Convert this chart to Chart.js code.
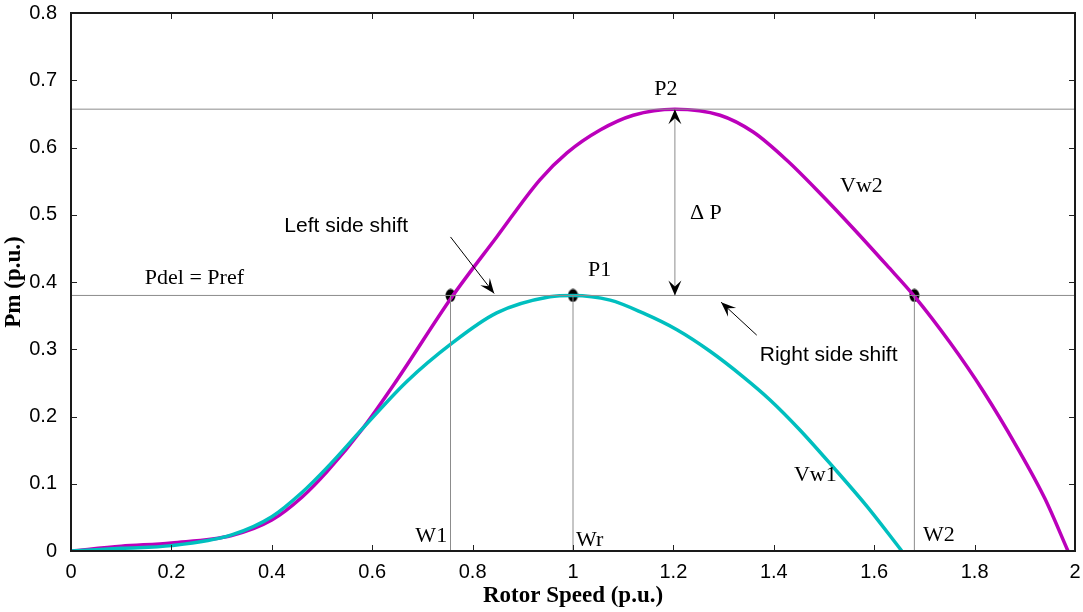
<!DOCTYPE html>
<html>
<head>
<meta charset="utf-8">
<script src="https://cdn.jsdelivr.net/npm/chart.js@4.4.1/dist/chart.umd.min.js"></script>
<style>
  html, body { margin: 0; padding: 0; background: #fff; }
  #wrap { width: 1083px; height: 612px; }
</style>
</head>
<body>
<div id="wrap"><canvas id="pmChart" width="1083" height="612"></canvas></div>
<script>
// curve Vw2 (higher wind speed)
const vw2Speed = [0, 0.1, 0.2, 0.32, 0.4, 0.46, 0.51, 0.582, 0.65, 0.759, 0.848, 0.934, 0.988, 1.054, 1.12, 1.203, 1.293, 1.359, 1.426, 1.492, 1.558, 1.625, 1.681, 1.751, 1.817, 1.884, 1.94, 1.986];
const vw2Power = [0, 0.007, 0.012, 0.023, 0.046, 0.08, 0.118, 0.183, 0.255, 0.378, 0.467, 0.552, 0.592, 0.626, 0.648, 0.657, 0.648, 0.623, 0.581, 0.532, 0.48, 0.425, 0.378, 0.31, 0.238, 0.155, 0.078, 0];

// curve Vw1 (lower wind speed)
const vw1Speed = [0, 0.1, 0.2, 0.32, 0.4, 0.46, 0.51, 0.582, 0.669, 0.759, 0.848, 0.954, 1.0, 1.074, 1.139, 1.207, 1.273, 1.339, 1.392, 1.452, 1.518, 1.586, 1.655];
const vw1Power = [0, 0.004, 0.008, 0.024, 0.051, 0.087, 0.124, 0.183, 0.252, 0.309, 0.354, 0.378, 0.38, 0.373, 0.354, 0.329, 0.297, 0.259, 0.225, 0.18, 0.125, 0.066, 0];

// operating points W1, Wr, W2 and levels
const opSpeed = [0.756, 1.0, 1.68];
const pRef = 0.38;
const pMax2 = 0.657;
const pMax2Speed = 1.203;

const xTicks = [0, 0.2, 0.4, 0.6, 0.8, 1, 1.2, 1.4, 1.6, 1.8, 2];
const yTicks = [0, 0.1, 0.2, 0.3, 0.4, 0.5, 0.6, 0.7, 0.8];

// text labels [text, x, y, font, align]
const serif = '"Liberation Serif", "Times New Roman", serif';
const sans = '"Liberation Sans", Arial, sans-serif';
const labels = [
  ['P2', 1.185, 0.686, '22px ' + serif, 'center'],
  ['P1', 1.03, 0.417, '22px ' + serif, 'left'],
  ['\u0394 P', 1.233, 0.503, '22px ' + serif, 'left'],
  ['Vw2', 1.532, 0.543, '22px ' + serif, 'left'],
  ['Vw1', 1.44, 0.113, '22px ' + serif, 'left'],
  ['W1', 0.686, 0.022, '22px ' + serif, 'left'],
  ['Wr', 1.006, 0.016, '22px ' + serif, 'left'],
  ['W2', 1.697, 0.024, '22px ' + serif, 'left'],
  ['Pdel = Pref', 0.147, 0.405, '22px ' + serif, 'left'],
  ['Left side shift', 0.425, 0.483, '21px ' + sans, 'left'],
  ['Right side shift', 1.372, 0.291, '21px ' + sans, 'left']
];

// arrows [x0, y0, x1, y1] (tip at x1,y1)
const arrows = [
  [0.756, 0.467, 0.843, 0.383],
  [1.366, 0.321, 1.295, 0.37]
];

function pts(xs, ys) {
  return xs.map((x, i) => ({ x: x, y: ys[i] }));
}

// ellipse marker like the matlab dots
const dot = document.createElement('canvas');
dot.width = 11; dot.height = 14;
(function () {
  const c = dot.getContext('2d');
  c.fillStyle = '#000';
  c.beginPath();
  c.ellipse(5.5, 7, 5, 6.5, 0, 0, Math.PI * 2);
  c.fill();
})();

function arrowHead(c, x0, y0, x1, y1, len, half) {
  const a = Math.atan2(y1 - y0, x1 - x0);
  c.save();
  c.translate(x1, y1);
  c.rotate(a);
  c.beginPath();
  c.moveTo(0, 0);
  c.lineTo(-len, -half);
  c.lineTo(-len * 0.6, 0);
  c.lineTo(-len, half);
  c.closePath();
  c.fill();
  c.restore();
}

const boxPlugin = {
  id: 'boxPlugin',
  afterDatasetsDraw(chart) {
    const c = chart.ctx;
    const xs = chart.scales.x, ys = chart.scales.y;
    const a = chart.chartArea;
    c.save();

    // double arrow for delta P
    const ax = xs.getPixelForValue(pMax2Speed);
    const aTop = ys.getPixelForValue(pMax2), aBot = ys.getPixelForValue(pRef);
    c.fillStyle = '#000';
    arrowHead(c, ax, aBot, ax, aTop, 15, 6.5);
    arrowHead(c, ax, aTop, ax, aBot, 15, 6.5);

    // shift arrows
    c.strokeStyle = '#000';
    c.lineWidth = 1;
    arrows.forEach(r => {
      const x0 = xs.getPixelForValue(r[0]), y0 = ys.getPixelForValue(r[1]);
      const x1 = xs.getPixelForValue(r[2]), y1 = ys.getPixelForValue(r[3]);
      c.beginPath();
      c.moveTo(x0, y0);
      c.lineTo(x1, y1);
      c.stroke();
      arrowHead(c, x0, y0, x1, y1, 15, 6);
    });

    // text
    c.fillStyle = '#000';
    c.textBaseline = 'middle';
    labels.forEach(l => {
      c.font = l[3];
      c.textAlign = l[4];
      c.fillText(l[0], xs.getPixelForValue(l[1]), ys.getPixelForValue(l[2]));
    });

    // inward ticks on all four sides
    c.strokeStyle = '#222';
    c.lineWidth = 1;
    const tl = 6;
    xTicks.forEach(v => {
      const px = Math.round(xs.getPixelForValue(v)) + 0.5;
      c.beginPath();
      c.moveTo(px, a.bottom); c.lineTo(px, a.bottom - tl);
      c.moveTo(px, a.top); c.lineTo(px, a.top + tl);
      c.stroke();
    });
    yTicks.forEach(v => {
      const py = Math.round(ys.getPixelForValue(v)) + 0.5;
      c.beginPath();
      c.moveTo(a.left, py); c.lineTo(a.left + tl, py);
      c.moveTo(a.right, py); c.lineTo(a.right - tl, py);
      c.stroke();
    });

    // axes box
    c.lineWidth = 2;
    c.strokeStyle = '#1a1a1a';
    c.strokeRect(a.left, a.top, a.right - a.left, a.bottom - a.top);
    c.restore();
  }
};

const refStyle = { borderColor: '#8c8c8c', borderWidth: 1, pointRadius: 0, tension: 0, fill: false };

const ctx = document.getElementById('pmChart').getContext('2d');
const pmChart = new Chart(ctx, {
  type: 'line',
  data: {
    datasets: [
      Object.assign({ data: [{ x: 0, y: pMax2 }, { x: 2, y: pMax2 }] }, refStyle),
      Object.assign({ data: [{ x: 0, y: pRef }, { x: 2, y: pRef }] }, refStyle),
      Object.assign({ data: [{ x: opSpeed[0], y: 0 }, { x: opSpeed[0], y: pRef }] }, refStyle),
      Object.assign({ data: [{ x: opSpeed[1], y: 0 }, { x: opSpeed[1], y: pRef }] }, refStyle),
      Object.assign({ data: [{ x: opSpeed[2], y: 0 }, { x: opSpeed[2], y: pRef }] }, refStyle),
      Object.assign({ data: [{ x: pMax2Speed, y: pRef }, { x: pMax2Speed, y: pMax2 }] }, refStyle),
      {
        label: 'Vw1',
        data: pts(vw1Speed, vw1Power),
        borderColor: '#00bfbf',
        borderWidth: 3.5,
        pointRadius: 0,
        cubicInterpolationMode: 'monotone',
        fill: false
      },
      {
        label: 'Vw2',
        data: pts(vw2Speed, vw2Power),
        borderColor: '#bb00bb',
        borderWidth: 3.5,
        pointRadius: 0,
        cubicInterpolationMode: 'monotone',
        fill: false
      },
      {
        label: 'points',
        data: opSpeed.map(x => ({ x: x, y: pRef })),
        showLine: false,
        pointStyle: dot,
        pointRadius: 6
      }
    ]
  },
  options: {
    responsive: false,
    animation: false,
    events: [],
    layout: { padding: { top: 13, right: 8, left: 0, bottom: 0 } },
    plugins: { legend: { display: false }, tooltip: { enabled: false } },
    scales: {
      x: {
        type: 'linear', min: 0, max: 2,
        grid: { display: false },
        border: { display: false },
        afterBuildTicks: s => { s.ticks = xTicks.map(v => ({ value: v })); },
        afterFit: s => { s.height = 61; s.paddingLeft = 0; s.paddingRight = 0; },
        ticks: {
          color: '#000', padding: 1, maxRotation: 0,
          font: { family: sans, size: 20 },
          callback: v => String(v)
        },
        title: {
          display: true, text: 'Rotor Speed (p.u.)', color: '#000',
          padding: { top: 0, bottom: 2 },
          font: { family: serif, size: 23, weight: 'bold' }
        }
      },
      y: {
        type: 'linear', min: 0, max: 0.8,
        grid: { display: false },
        border: { display: false },
        afterBuildTicks: s => { s.ticks = yTicks.map(v => ({ value: v })); },
        afterFit: s => { s.width = 71; s.paddingTop = 0; s.paddingBottom = 0; },
        ticks: {
          color: '#000', padding: 6,
          font: { family: sans, size: 20 },
          callback: v => String(v)
        },
        title: {
          display: true, text: 'Pm (p.u.)', color: '#000',
          padding: { top: 0, bottom: 0 },
          font: { family: serif, size: 23, weight: 'bold' }
        }
      }
    }
  },
  plugins: [boxPlugin]
});
</script>
</body>
</html>
